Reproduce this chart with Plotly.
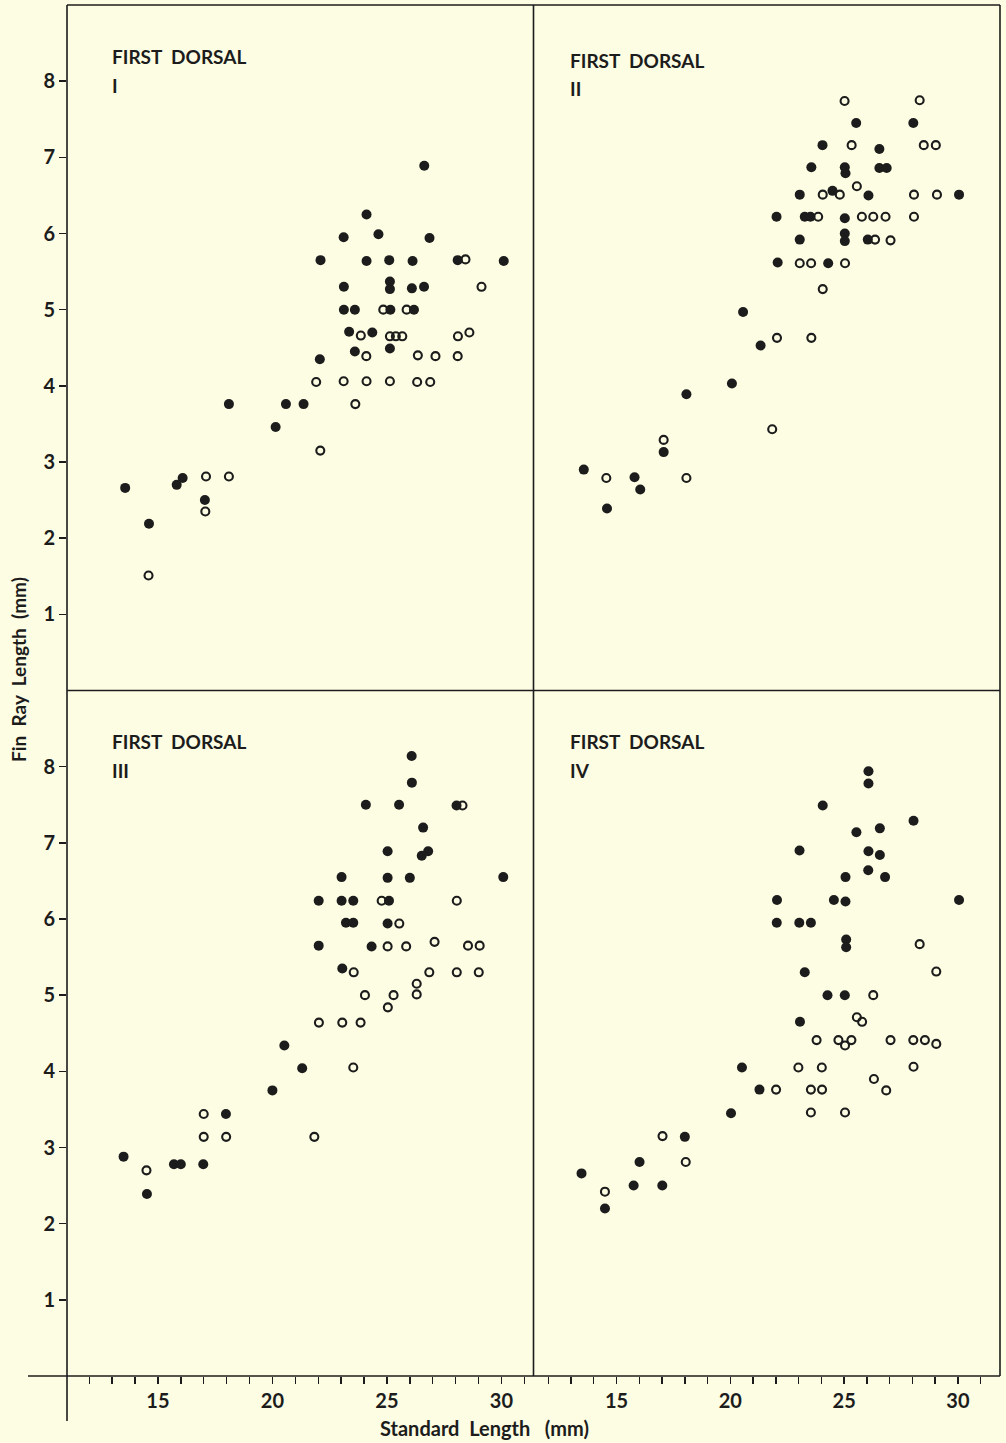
import plotly.graph_objects as go

# ---------------- data (mm) ----------------
p1_filled_x = [13.57, 14.61, 15.82, 16.08, 17.05, 18.1, 20.14, 20.59, 21.36, 22.07, 22.1, 23.11, 23.12, 23.12, 23.35, 23.6, 23.6, 24.11, 24.11, 24.36, 24.63, 25.1, 25.13, 25.13, 25.15, 25.13, 26.12, 26.09, 26.18, 26.63, 26.62, 26.86, 28.09, 30.1]
p1_filled_y = [2.66, 2.19, 2.70, 2.79, 2.5, 3.76, 3.46, 3.76, 3.76, 4.35, 5.65, 5.95, 5.3, 5.0, 4.71, 5.0, 4.45, 6.25, 5.64, 4.70, 5.99, 5.65, 5.37, 5.27, 5.0, 4.49, 5.64, 5.28, 5.0, 6.89, 5.3, 5.94, 5.65, 5.64]
p1_open_x = [14.59, 17.07, 17.1, 18.1, 21.91, 22.09, 23.11, 23.62, 23.86, 24.1, 24.11, 24.84, 25.13, 25.13, 25.39, 25.67, 25.86, 26.35, 26.32, 26.89, 27.12, 28.09, 28.1, 28.43, 28.6, 29.13]
p1_open_y = [1.51, 2.35, 2.81, 2.81, 4.05, 3.15, 4.06, 3.76, 4.66, 4.39, 4.06, 5.0, 4.65, 4.06, 4.65, 4.65, 5.0, 4.4, 4.05, 4.05, 4.39, 4.39, 4.65, 5.66, 4.70, 5.3]

p2_filled_x = [13.56, 14.58, 15.79, 16.04, 17.07, 18.07, 20.07, 20.56, 21.33, 22.03, 22.08, 23.05, 23.05, 23.27, 23.52, 23.56, 24.05, 24.3, 24.49, 25.03, 25.03, 25.03, 25.03, 25.06, 25.53, 26.04, 26.07, 26.55, 26.55, 26.87, 28.04, 30.05]
p2_filled_y = [2.9, 2.39, 2.8, 2.64, 3.13, 3.89, 4.03, 4.97, 4.53, 6.22, 5.62, 6.51, 5.92, 6.22, 6.22, 6.87, 7.16, 5.61, 6.56, 6.2, 6.0, 5.9, 6.87, 6.79, 7.45, 5.92, 6.5, 7.11, 6.86, 6.86, 7.45, 6.51]
p2_open_x = [14.55, 17.07, 18.07, 21.84, 22.05, 23.05, 23.55, 23.56, 23.86, 24.06, 24.06, 24.81, 25.02, 25.04, 25.33, 25.56, 25.78, 26.28, 26.36, 26.82, 27.04, 28.07, 28.07, 28.32, 28.5, 29.03, 29.08]
p2_open_y = [2.79, 3.29, 2.79, 3.43, 4.63, 5.61, 5.61, 4.63, 6.22, 6.51, 5.27, 6.51, 7.74, 5.61, 7.16, 6.62, 6.22, 6.22, 5.92, 6.22, 5.91, 6.51, 6.22, 7.75, 7.16, 7.16, 6.51]

p3_filled_x = [13.5, 14.52, 15.7, 16.0, 16.98, 17.97, 20.0, 20.52, 21.3, 22.02, 22.02, 23.02, 23.02, 23.05, 23.21, 23.53, 23.53, 24.08, 24.33, 25.03, 25.03, 25.03, 25.09, 25.53, 26.0, 26.08, 26.09, 26.52, 26.58, 26.8, 28.04, 30.08]
p3_filled_y = [2.88, 2.39, 2.78, 2.78, 2.78, 3.44, 3.75, 4.34, 4.04, 6.24, 5.65, 6.55, 6.24, 5.35, 5.95, 6.24, 5.95, 7.5, 5.64, 6.89, 6.54, 5.94, 6.24, 7.5, 6.54, 8.14, 7.79, 6.83, 7.2, 6.89, 7.49, 6.55]
p3_open_x = [14.5, 17.0, 17.0, 17.98, 21.83, 22.03, 23.05, 23.53, 23.55, 23.85, 24.04, 24.77, 25.03, 25.04, 25.29, 25.54, 25.84, 26.3, 26.3, 26.85, 27.08, 28.05, 28.05, 28.3, 28.54, 29.01, 29.05]
p3_open_y = [2.70, 3.44, 3.14, 3.14, 3.14, 4.64, 4.64, 4.05, 5.30, 4.64, 5.0, 6.24, 5.64, 4.84, 5.0, 5.94, 5.64, 5.15, 5.01, 5.30, 5.70, 6.24, 5.30, 7.49, 5.65, 5.30, 5.65]

p4_filled_x = [13.46, 14.49, 15.75, 16.01, 17.01, 18.0, 20.03, 20.51, 21.28, 22.04, 22.05, 23.03, 23.04, 23.06, 23.27, 23.54, 24.06, 24.27, 24.55, 25.03, 25.06, 25.06, 25.09, 25.09, 25.54, 26.06, 26.07, 26.07, 26.07, 26.57, 26.57, 26.8, 28.05, 30.05]
p4_filled_y = [2.66, 2.2, 2.5, 2.81, 2.5, 3.14, 3.45, 4.05, 3.76, 5.95, 6.25, 5.95, 6.90, 4.65, 5.30, 5.95, 7.49, 5.0, 6.25, 5.0, 6.55, 6.23, 5.73, 5.63, 7.14, 6.64, 6.89, 7.94, 7.78, 7.19, 6.84, 6.55, 7.29, 6.25]
p4_open_x = [14.49, 17.02, 18.04, 22.01, 22.99, 23.54, 23.54, 23.79, 24.02, 24.03, 24.75, 25.04, 25.04, 25.32, 25.56, 25.79, 26.28, 26.31, 26.85, 27.04, 28.04, 28.05, 28.32, 28.55, 29.05, 29.05]
p4_open_y = [2.42, 3.15, 2.81, 3.76, 4.05, 3.76, 3.46, 4.41, 4.05, 3.76, 4.41, 4.34, 3.46, 4.41, 4.71, 4.65, 5.0, 3.9, 3.75, 4.41, 4.41, 4.06, 5.67, 4.41, 5.31, 4.36]

NB = "\u00a0"
panel_titles = ["FIRST" + NB * 2 + "DORSAL"] * 4
panel_numerals = ["I", "II", "III", "IV"]
x_tick_vals = [15, 20, 25, 30]
y_tick_vals = [1, 2, 3, 4, 5, 6, 7, 8]
x_title = "Standard" + NB * 2 + "Length" + NB * 3 + "(mm)"
y_title = "Fin" + NB * 2 + "Ray" + NB * 2 + "Length" + NB * 2 + "(mm)"

# ---------------- layout constants ----------------
W, H = 1006, 1443
ML, MR, MT, MB = 67, 6, 5, 67
PW = W - ML - MR
PH = H - MT - MB
BG = "#fdfde3"
INK = "#1c1c1c"
FONT = "Lato, 'DejaVu Sans', sans-serif"


def px_x(px):
    return (px - ML) / PW


def px_y(py):
    return (H - MB - py) / PH


panels = [
    (p1_filled_x, p1_filled_y, p1_open_x, p1_open_y),
    (p2_filled_x, p2_filled_y, p2_open_x, p2_open_y),
    (p3_filled_x, p3_filled_y, p3_open_x, p3_open_y),
    (p4_filled_x, p4_filled_y, p4_open_x, p4_open_y),
]

fig = go.Figure()
for i, (fx, fy, ox, oy) in enumerate(panels):
    ax = "" if i == 0 else str(i + 1)
    fig.add_trace(go.Scatter(
        x=ox, y=oy, mode="markers", xaxis="x" + ax, yaxis="y" + ax,
        marker=dict(symbol="circle-open", size=8, color=INK, line=dict(width=2.1, color=INK)),
        showlegend=False, hoverinfo="skip"))
    fig.add_trace(go.Scatter(
        x=fx, y=fy, mode="markers", xaxis="x" + ax, yaxis="y" + ax,
        marker=dict(symbol="circle", size=10, color=INK, line=dict(width=0)),
        showlegend=False, hoverinfo="skip"))

x_ranges = [[11.03, 31.4], [11.35, 31.85], [11.03, 31.4], [11.35, 31.85]]
x_domains = [[0, 0.5], [0.5, 1], [0, 0.5], [0.5, 1]]
y_domains = [[0.5, 1], [0.5, 1], [0, 0.5], [0, 0.5]]

layout = dict(
    width=W, height=H,
    margin=dict(l=ML, r=MR, t=MT, b=MB, pad=0),
    paper_bgcolor=BG, plot_bgcolor=BG,
    font=dict(family=FONT, color=INK),
    showlegend=False,
)

for i in range(4):
    ax = "" if i == 0 else str(i + 1)
    bottom = i >= 2
    left = i in (0, 2)
    layout["xaxis" + ax] = dict(
        domain=x_domains[i], range=x_ranges[i], anchor="y" + ax,
        showgrid=False, zeroline=False, showline=False,
        tickmode="array", tickvals=x_tick_vals if bottom else [],
        ticks="outside" if bottom else "", ticklen=7, tickwidth=1.4, tickcolor=INK,
        showticklabels=bottom,
        tickfont=dict(family=FONT, size=20, color=INK, weight="bold"),
        minor=dict(dtick=1, tick0=0, ticks="outside" if bottom else "", ticklen=7,
                   tickwidth=1.4, tickcolor=INK, showgrid=False) if bottom else dict(ticks=""),
        fixedrange=True,
    )
    layout["yaxis" + ax] = dict(
        domain=y_domains[i], range=[0, 9], anchor="x" + ax,
        showgrid=False, zeroline=False, showline=False,
        tickmode="array", tickvals=y_tick_vals if left else [],
        ticks="outside" if left else "", ticklen=7, tickwidth=1.4, tickcolor=INK,
        showticklabels=left,
        tickfont=dict(family=FONT, size=20, color=INK, weight="bold"),
        fixedrange=True,
    )

fig.update_layout(**layout)

# frame lines
lw = 1.6
shapes = [
    dict(type="line", xref="paper", yref="paper", x0=0, x1=0, y0=1, y1=px_y(1421)),
    dict(type="line", xref="paper", yref="paper", x0=px_x(28), x1=1, y0=0, y1=0),
    dict(type="line", xref="paper", yref="paper", x0=0, x1=1, y0=1, y1=1),
    dict(type="line", xref="paper", yref="paper", x0=1, x1=1, y0=0, y1=1),
    dict(type="line", xref="paper", yref="paper", x0=0.5, x1=0.5, y0=0, y1=1),
    dict(type="line", xref="paper", yref="paper", x0=0, x1=1, y0=0.5, y1=0.5),
]
for s in shapes:
    s["line"] = dict(color=INK, width=lw)
    fig.add_shape(**s)

# panel labels
label_pos = [(110, 57, 85), (568, 60, 88), (110, 741, 770), (568, 741, 770)]
for (lx, ty, ny), t, n in zip(label_pos, panel_titles, panel_numerals):
    fig.add_annotation(x=px_x(lx), y=px_y(ty), xref="paper", yref="paper", text=t,
                       showarrow=False, xanchor="left", yanchor="middle",
                       font=dict(family=FONT, size=19, color=INK, weight="bold"))
    fig.add_annotation(x=px_x(lx), y=px_y(ny), xref="paper", yref="paper", text=n,
                       showarrow=False, xanchor="left", yanchor="middle",
                       font=dict(family=FONT, size=19, color=INK, weight="bold"))

# axis titles
fig.add_annotation(x=px_x(484), y=px_y(1428), xref="paper", yref="paper", text=x_title,
                   showarrow=False, xanchor="center", yanchor="middle",
                   font=dict(family=FONT, size=20, color=INK, weight="bold"))
fig.add_annotation(x=px_x(18), y=px_y(670), xref="paper", yref="paper", text=y_title,
                   showarrow=False, xanchor="center", yanchor="middle", textangle=-90,
                   font=dict(family=FONT, size=19, color=INK, weight="bold"))

fig.write_html("out.html",
               config={"displayModeBar": False, "staticPlot": True},
               post_script="document.body.style.margin='0px';document.body.style.background='" + BG + "';")
